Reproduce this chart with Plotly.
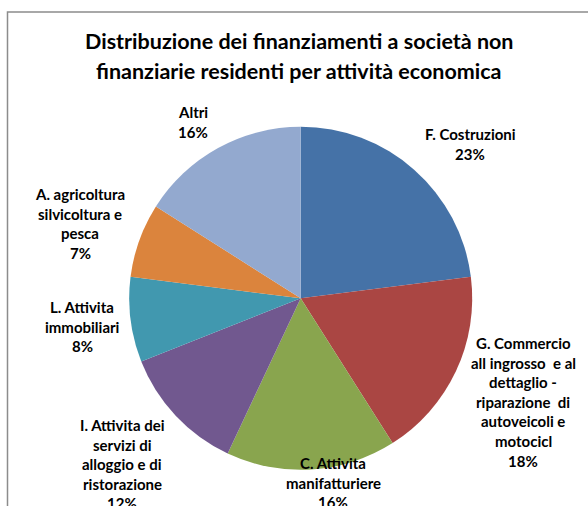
import plotly.graph_objects as go

# ---- data ----
categories = [
    "F. Costruzioni",
    "G. Commercio all ingrosso e al dettaglio - riparazione di autoveicoli e motocicl",
    "C. Attivita manifatturiere",
    "I. Attivita dei servizi di alloggio e di ristorazione",
    "L. Attivita immobiliari",
    "A. agricoltura silvicoltura e pesca",
    "Altri",
]
values = [23, 18, 16, 12, 8, 7, 16]
label_lines = [
    ["F. Costruzioni"],
    ["G. Commercio", "all ingrosso  e al", "dettaglio -", "riparazione  di", "autoveicoli e", "motocicl"],
    ["C. Attivita", "manifatturiere"],
    ["I. Attivita dei", "servizi di", "alloggio e di", "ristorazione"],
    ["L. Attivita", "immobiliari"],
    ["A. agricoltura", "silvicoltura e", "pesca"],
    ["Altri"],
]
title_lines = ["Distribuzione dei finanziamenti a società non",
               "finanziarie residenti per attività economica"]

# ---- style ----
colors = ["#4572A7", "#AA4643", "#89A54E", "#71588F", "#4198AF", "#DB843D", "#93A9CF"]
W, H = 588, 506
# label block positions (x center, y of first line, in pixels from top-left)
label_pos = [(470, 134), (523, 343), (333, 463), (122, 425), (82, 307), (80, 194), (193, 112)]
line_step = 19.6
font_family = "Lato, 'Noto Sans', sans-serif"

cx, cy, r = 300.7, 298.3, 171.5

fig = go.Figure(go.Pie(
    labels=categories,
    values=values,
    sort=False,
    direction="clockwise",
    rotation=0,
    marker=dict(colors=colors, line=dict(width=0)),
    textinfo="none",
    hoverinfo="label+percent",
    showlegend=False,
    domain=dict(x=[(cx - r) / W, (cx + r) / W],
                y=[(H - cy - r) / H, (H - cy + r) / H]),
))

total = sum(values)
annotations = []
for lines, v, (lx, ly) in zip(label_lines, values, label_pos):
    all_lines = lines + [f"{round(v / total * 100)}%"]
    for i, t in enumerate(all_lines):
        y = ly + i * line_step
        annotations.append(dict(
            x=lx / W, y=1 - y / H, xref="paper", yref="paper",
            text=f"<b>{t}</b>", showarrow=False,
            xanchor="center", yanchor="middle",
            font=dict(family=font_family, size=15, color="#000000"),
        ))

for i, t in enumerate(title_lines):
    annotations.append(dict(
        x=299 / W, y=1 - (41 + i * 30) / H, xref="paper", yref="paper",
        text=f"<b>{t}</b>", showarrow=False,
        xanchor="center", yanchor="middle",
        font=dict(family=font_family, size=21.5, color="#000000"),
    ))

fig.update_layout(
    width=W, height=H,
    margin=dict(l=0, r=0, t=0, b=0),
    paper_bgcolor="white",
    plot_bgcolor="white",
    annotations=annotations,
    shapes=[dict(type="rect", xref="paper", yref="paper",
                 x0=7.5 / W, x1=1.05, y0=-0.05, y1=1 - 12 / H,
                 line=dict(color="#8C8C8C", width=1.5), fillcolor="rgba(0,0,0,0)",
                 layer="above")],
)

fig.write_html("out.html")
